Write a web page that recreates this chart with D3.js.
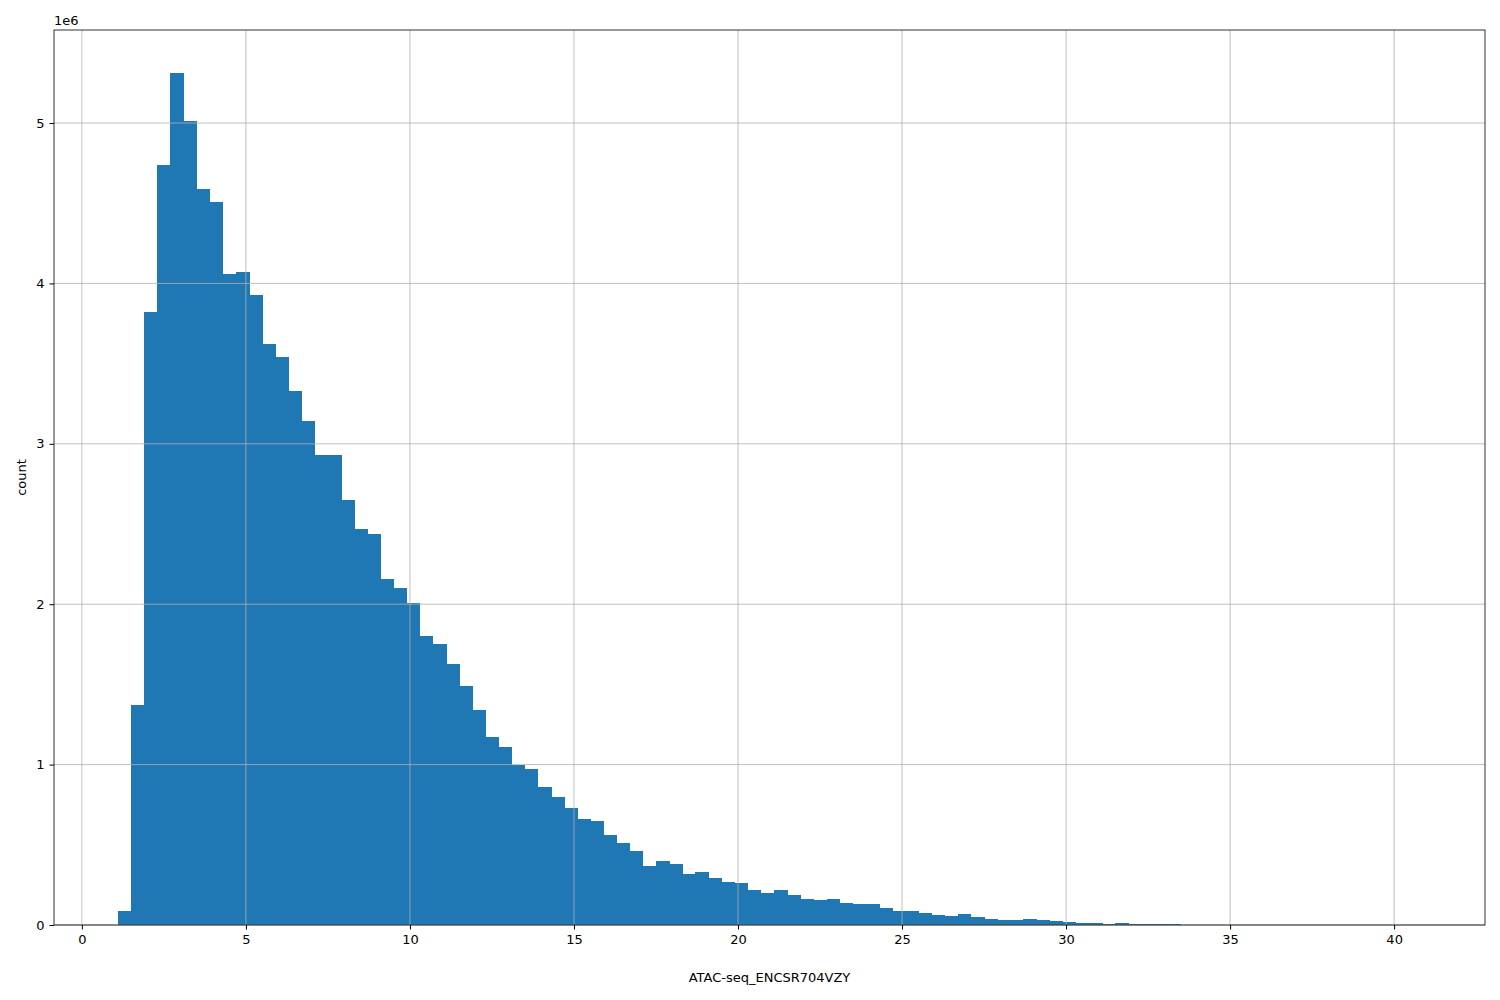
<!DOCTYPE html><html><head><meta charset="utf-8">
<script src="https://cdn.jsdelivr.net/npm/d3@7"></script>
<style>body{margin:0;background:#fff}text{font-family:"DejaVu Sans",sans-serif}</style></head><body>
<svg id="c" width="1500" height="1000"></svg>
<script>
const binStart = 1.1, binWidth = 0.4;
const counts = [0.09,1.37,3.82,4.74,5.31,5.01,4.59,4.51,4.06,4.07,3.93,3.62,3.54,3.33,3.14,2.93,2.93,2.65,2.47,2.44,2.16,2.10,2.01,1.80,1.75,1.63,1.49,1.34,1.17,1.11,1.00,0.97,0.86,0.80,0.73,0.66,0.65,0.56,0.51,0.46,0.37,0.40,0.38,0.32,0.33,0.29,0.27,0.26,0.22,0.20,0.22,0.19,0.16,0.155,0.16,0.14,0.13,0.13,0.105,0.09,0.085,0.075,0.06,0.055,0.07,0.05,0.04,0.03,0.03,0.035,0.03,0.025,0.02,0.012,0.01,0.005,0.01,0.005,0.004,0.004,0.004,0.003,0.003,0.001,0.001,0.001,0.001,0.001,0.001,0.001,0.001,0.001,0.001,0.001,0.001,0.001,0.001,0.001,0.001,0.001];
const xTicks = [0,5,10,15,20,25,30,35,40];
const yTicks = [0,1,2,3,4,5];
const svg = d3.select("#c");
const L=54,R=1485,T=30,B=925;
const x = d3.scaleLinear().domain([-0.85,42.77]).range([L,R]);
const y = d3.scaleLinear().domain([0,5.58]).range([B,T]);
svg.append("g").attr("shape-rendering","crispEdges").selectAll("rect").data(counts).join("rect")
 .attr("x",(d,i)=>x(binStart+i*binWidth)).attr("width",(d,i)=>x(binStart+(i+1)*binWidth)-x(binStart+i*binWidth)+0.5)
 .attr("y",d=>y(d)).attr("height",d=>B-y(d)).attr("fill","#1f77b4");
const g = svg.append("g");
g.selectAll(".gx").data(xTicks).join("line").attr("x1",d=>x(d)).attr("x2",d=>x(d)).attr("y1",T).attr("y2",B).attr("stroke","#b0b0b0").attr("stroke-width",0.8);
g.selectAll(".gy").data(yTicks).join("line").attr("y1",d=>y(d)).attr("y2",d=>y(d)).attr("x1",L).attr("x2",R).attr("stroke","#b0b0b0").attr("stroke-width",0.8);
svg.append("g").attr("transform",`translate(0,${B})`).call(d3.axisBottom(x).tickValues(xTicks).tickSize(4.5).tickPadding(5).tickFormat(d3.format("d")))
 .call(a=>{a.select(".domain").remove();a.selectAll("text").attr("font-size",13).attr("font-family","DejaVu Sans");});
svg.append("g").attr("transform",`translate(${L},0)`).call(d3.axisLeft(y).tickValues(yTicks).tickSize(4.5).tickPadding(5).tickFormat(d3.format("d")))
 .call(a=>{a.select(".domain").remove();a.selectAll("text").attr("font-size",13).attr("font-family","DejaVu Sans");});
svg.append("rect").attr("x",L).attr("y",T).attr("width",R-L).attr("height",B-T).attr("fill","none").attr("stroke","#000").attr("stroke-width",0.8);
svg.append("text").attr("x",L).attr("y",T-5).attr("font-size",13).text("1e6");
svg.append("text").attr("x",(L+R)/2).attr("y",982).attr("text-anchor","middle").attr("font-size",13).text("ATAC-seq_ENCSR704VZY");
svg.append("text").attr("transform",`translate(26,${(T+B)/2}) rotate(-90)`).attr("text-anchor","middle").attr("font-size",13).text("count");
</script></body></html>
